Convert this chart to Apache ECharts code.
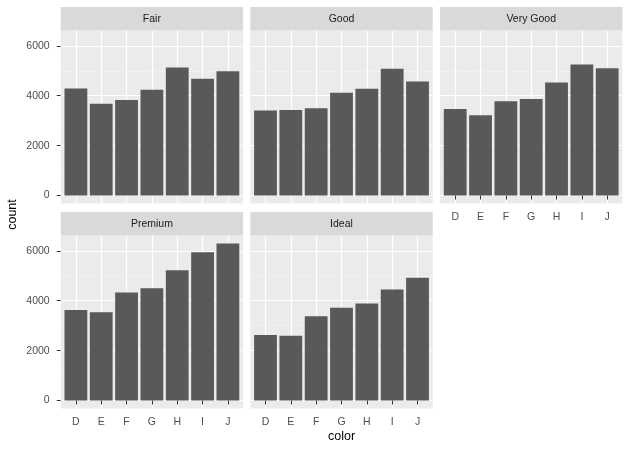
<!DOCTYPE html>
<html>
<head>
<meta charset="utf-8">
<script src="https://cdn.jsdelivr.net/npm/echarts@6/dist/echarts.min.js"></script>
<style>
html,body{margin:0;padding:0;background:#fff;}
#chart{width:630px;height:453px;}
</style>
</head>
<body>
<div id="chart"></div>
<script>
// ---- data ----
const colors = ['D', 'E', 'F', 'G', 'H', 'I', 'J'];
const cuts = ['Fair', 'Good', 'Very Good', 'Premium', 'Ideal'];
const fair = [4291, 3682, 3827, 4239, 5136, 4685, 4976];
const good = [3405, 3424, 3496, 4123, 4276, 5079, 4574];
const veryGood = [3470, 3215, 3779, 3873, 4535, 5256, 5104];
const premium = [3631, 3539, 4325, 4501, 5217, 5946, 6295];
const ideal = [2629, 2598, 3375, 3721, 3889, 4452, 4918];
const yTicks = [0, 2000, 4000, 6000];
const yMinorTicks = [1000, 3000, 5000];
const seriesValues = [fair, good, veryGood, premium, ideal];

// ---- layout ----
const colLeft = [60.7, 250.3, 440.0];
const panelW = 182.4;
const rowStripTop = [7, 212];
const stripH = 23.6;
const panelH = 172.8;
const FONT = '"Liberation Sans", Arial, Helvetica, sans-serif';

const allVals = [].concat(...seriesValues);
const yMaxData = Math.max(...allVals);
const yExpand = yMaxData * 0.05;
const yMin = -yExpand, yMax = yMaxData + yExpand;
const xTickPos = colors.map((c, i) => i + 1);

const grids = [], xAxes = [], yAxes = [], series = [], graphics = [];

cuts.forEach((cut, k) => {
  const row = Math.floor(k / 3), col = k % 3;
  const left = colLeft[col];
  const stripTop = rowStripTop[row];
  const top = stripTop + stripH;
  grids.push({
    left: left, top: top, width: panelW, height: panelH,
    show: true, backgroundColor: '#EBEBEB', borderWidth: 0, containLabel: false
  });
  graphics.push({
    type: 'rect', shape: { x: left, y: stripTop, width: panelW, height: stripH },
    style: { fill: '#D9D9D9' }, silent: true
  });
  graphics.push({
    type: 'text', x: left + panelW / 2, y: stripTop + stripH / 2,
    style: { text: cut, fill: '#1A1A1A', font: '10.5px ' + FONT, align: 'center', verticalAlign: 'middle' },
    silent: true
  });
  const showX = (row === 1) || (col === 2);
  const showY = (col === 0);
  xAxes.push({
    type: 'value', gridIndex: k, min: 0.4, max: colors.length + 0.6,
    axisLine: { show: false },
    axisTick: { show: showX, length: 4, lineStyle: { color: '#333333', width: 1 }, customValues: xTickPos },
    axisLabel: {
      show: showX, customValues: xTickPos, color: '#4D4D4D', fontSize: 10.5, fontFamily: FONT, margin: 8,
      formatter: v => colors[Math.round(v) - 1] || ''
    },
    splitLine: { show: true, lineStyle: { color: '#FFFFFF', width: 1.2 } },
    minorSplitLine: { show: false }
  });
  yAxes.push({
    type: 'value', gridIndex: k, min: yMin, max: yMax,
    axisLine: { show: false },
    axisTick: { show: showY, length: 4, lineStyle: { color: '#333333', width: 1 }, customValues: yTicks },
    axisLabel: {
      show: showY, customValues: yTicks, color: '#4D4D4D', fontSize: 10.5, fontFamily: FONT, margin: 11,
      formatter: v => String(Math.round(v))
    },
    splitLine: { show: true, lineStyle: { color: '#FFFFFF', width: 1.2 } }
  });
  series.push({
    type: 'line', xAxisIndex: k, yAxisIndex: k, data: [], silent: true, z: 1,
    markLine: {
      silent: true, symbol: 'none', animation: false, z: 1,
      label: { show: false },
      lineStyle: { color: '#F5F5F5', width: 0.6, type: 'solid' },
      data: yMinorTicks.map(v => ({ yAxis: v }))
    }
  });
  series.push({
    type: 'bar', xAxisIndex: k, yAxisIndex: k, z: 10,
    barWidth: '90%',
    itemStyle: { color: '#595959' },
    data: seriesValues[k].map((v, i) => [i + 1, v]),
    animation: false
  });
});

graphics.push({
  type: 'text', x: colLeft[0] + (colLeft[2] + panelW - colLeft[0]) / 2, y: 437,
  style: { text: 'color', fill: '#000000', font: '12.5px ' + FONT, align: 'center', verticalAlign: 'middle' },
  silent: true
});
graphics.push({
  type: 'text', x: 13, y: 214.5, rotation: Math.PI / 2,
  style: { text: 'count', fill: '#000000', font: '12.5px ' + FONT, align: 'center', verticalAlign: 'middle' },
  silent: true
});

const chart = echarts.init(document.getElementById('chart'), null, { renderer: 'canvas' });
chart.setOption({
  backgroundColor: '#FFFFFF',
  animation: false,
  grid: grids,
  xAxis: xAxes,
  yAxis: yAxes,
  series: series,
  graphic: graphics
});
</script>
</body>
</html>
